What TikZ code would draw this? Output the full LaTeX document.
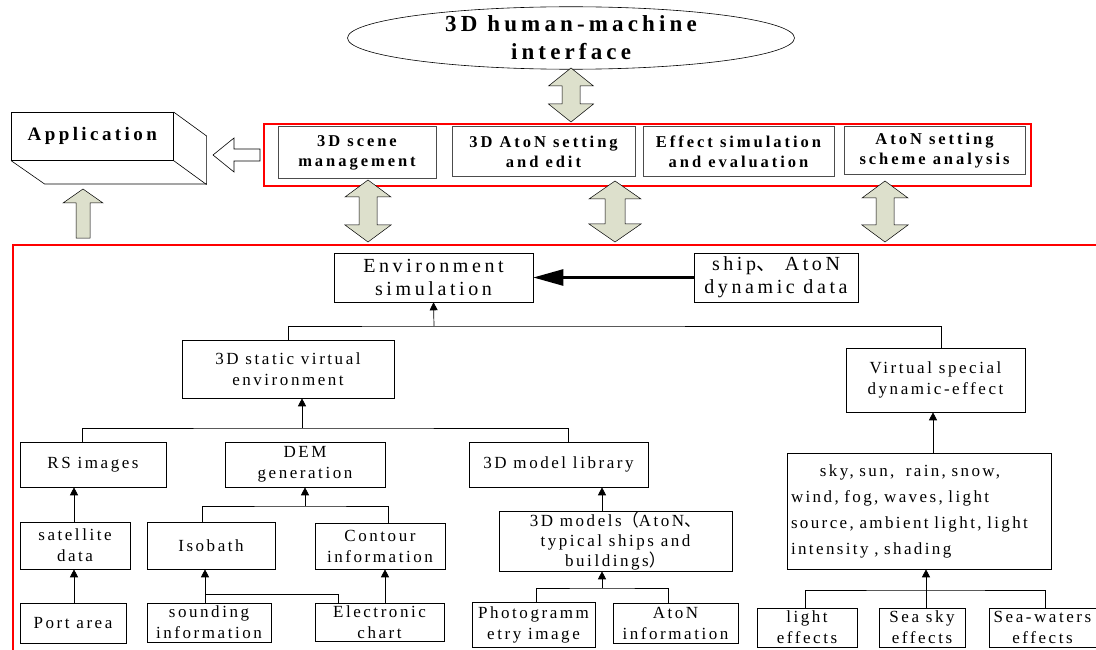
\documentclass[tikz,border=0pt]{standalone}
\usepackage{fontspec}
\setmainfont{Liberation Serif}
\newfontfamily\spfont[LetterSpace=15]{Liberation Serif}
\newfontfamily\spfontc[LetterSpace=18]{Liberation Serif}
\newfontfamily\spfontb[LetterSpace=14]{Liberation Serif}
\newfontfamily\cjk{Noto Sans CJK SC}
\usetikzlibrary{arrows.meta,shapes.geometric,calc}
\definecolor{arrowfill}{RGB}{221,224,204}
\newcommand\dbarr[6]{% x, ytop, ybot, head half width, shaft half width, head length
  \draw[fatarrow] (#1,#2) -- ({#1+#4},{#2+#6}) -- ({#1+#5},{#2+#6}) -- ({#1+#5},{#3-#6}) -- ({#1+#4},{#3-#6}) -- (#1,#3)
    -- ({#1-#4},{#3-#6}) -- ({#1-#5},{#3-#6}) -- ({#1-#5},{#2+#6}) -- ({#1-#4},{#2+#6}) -- cycle;}
\begin{document}
\begin{tikzpicture}[x=1pt,y=-1pt,
  box/.style={draw, line width=0.6pt, inner sep=0pt, align=center, font={\spfont\fontsize{17}{21}\selectfont}},
  bigtext/.style={font={\spfontc\fontsize{20}{23}\selectfont}},
  topbox/.style={draw=black!70, line width=1pt, inner sep=0pt, align=center, font={\spfontc\bfseries\fontsize{16.5}{20}\selectfont}},
  arr/.style={-{Triangle[length=8pt,width=8pt]}, line width=0.7pt},
  conn/.style={line width=0.7pt},
  fatarrow/.style={fill=arrowfill, draw=black, line width=0.5pt},
  redbox/.style={draw=red, line width=1.3pt, inner sep=0pt}
]
\useasboundingbox (0,0) rectangle (1096,650);

% top part
\node[ellipse, draw, line width=0.6pt, minimum width=447, minimum height=61, inner sep=0pt, align=center,
  font={\spfontc\bfseries\fontsize{23}{28}\selectfont}] (hmi) at (571,38) {3D human-machine\\interface};
\dbarr{571}{68}{122}{22.5}{9}{18}

\node[redbox, minimum width=767, minimum height=62] (topframe) at (647.5,155) {};
\node[topbox, minimum width=158, minimum height=52] (scene) at (357,153) {3D scene\\management};
\node[topbox, minimum width=183, minimum height=50] (atonedit) at (543.5,152) {3D AtoN setting\\and edit};
\node[topbox, minimum width=191, minimum height=50] (effect) at (738.5,152) {Effect simulation\\and evaluation};
\node[topbox, minimum width=181, minimum height=48] (scheme) at (934.5,151) {AtoN setting\\scheme analysis};

% application block
\node[draw, line width=0.6pt, minimum width=162, minimum height=48, inner sep=0pt, anchor=north west,
  font={\spfontc\bfseries\fontsize{19}{20}\selectfont}] (app) at (11,112) {Application};
\draw[line width=0.6pt] (app.north east) -- ++(33,24) -- ++(0,48) -- ++(-162,0) -- (app.south west);
\draw[line width=0.6pt] (app.south east) -- ++(33,24);
\draw[line width=0.6pt, fill=white] (213,155) -- (234,138) -- (234,149) -- (260,149) -- (260,161) -- (234,161) -- (234,172) -- cycle;
\draw[fatarrow] (83,189) -- (103,203) -- (90,203) -- (90,238) -- (76,238) -- (76,203) -- (63,203) -- cycle;

\dbarr{368}{180}{242}{23}{9}{17}
\dbarr{615}{181}{242}{26}{10}{18}
\dbarr{885}{181}{242}{23}{9}{17}

% big red frame
\draw[red, line width=1.5pt] (1100,245) -- (13,245) -- (13,655);

% lower part
\node[box, bigtext, minimum width=199, minimum height=49] (env) at (433.5,277.5) {Environment\\simulation};
\node[box, bigtext, minimum width=164, minimum height=49] (ship) at (776,277.5) {ship{\cjk 、} AtoN\\dynamic data};
\draw[line width=2.6pt, -{Triangle[length=30pt,width=16pt]}] (ship.west) -- (env.east);

\node[box, minimum width=212, minimum height=58] (static) at (288,369) {3D static virtual\\environment};
\node[box, minimum width=179, minimum height=64] (virtual) at (935.5,380) {Virtual special\\dynamic-effect};
\coordinate (j1) at (434,326);
\draw[conn] (static.north) |- (j1) -| ([xshift=6pt]virtual.north);
\draw[arr] (j1) -- (env.south);

\node[box, minimum width=146, minimum height=45] (rs) at (93,464.5) {RS images};
\node[box, minimum width=160, minimum height=45] (dem) at (305,464.5) {DEM\\generation};
\node[box, minimum width=179, minimum height=45] (lib) at (558.5,464.5) {3D model library};
\coordinate (j2) at (302,428);
\draw[conn] ([xshift=-11pt]rs.north) |- (j2) -| ([xshift=10pt]lib.north);
\draw[arr] (j2) -- (j2 |- static.south);

\node[box, minimum width=110, minimum height=47] (sat) at (75,545.5) {satellite\\data};
\node[box, minimum width=106, minimum height=40] (port) at (73,623) {Port area};
\draw[arr] ([xshift=1pt]port.north) -- ([xshift=1pt]port.north |- sat.south);
\draw[arr] ([xshift=-1pt]sat.north) -- ([xshift=-1pt]sat.north |- rs.south);

\node[box, minimum width=128, minimum height=47] (isobath) at (211,545.5) {Isobath};
\node[box, minimum width=130, minimum height=46] (contour) at (380,546) {Contour\\information};
\coordinate (j3) at (305,506);
\draw[conn] ([xshift=-9pt]isobath.north) |- (j3) -| ([xshift=8pt]contour.north);
\draw[arr] (j3) -- (dem.south);

\node[box, minimum width=124, minimum height=39] (sounding) at (209,622.5) {sounding\\information};
\node[box, minimum width=129, minimum height=38] (echart) at (379.5,622) {Electronic\\chart};
\coordinate (j4) at (205,594);
\draw[arr] (j4 |- sounding.north) -- (j4 |- isobath.south);
\draw[conn] (j4) -| ([xshift=-41.5pt]echart.north);
\draw[arr] ([xshift=5.5pt]echart.north) -- ([xshift=5.5pt]echart.north |- contour.south);

\node[box, minimum width=233, minimum height=60, font={\spfont\fontsize{17}{20}\selectfont}] (models) at (615.5,541) {3D models{\cjk （}AtoN{\cjk 、}\\typical ships and\\buildings{\cjk ）}};
\draw[arr] ([xshift=-13.5pt]models.north) -- ([xshift=-13.5pt]models.north |- lib.south);
\node[box, minimum width=123, minimum height=45] (photo) at (533.5,624.5) {Photogramm\\etry image};
\node[box, minimum width=125, minimum height=40] (atoninfo) at (675.5,623) {AtoN\\information};
\coordinate (j5) at (602,588);
\draw[conn] ([xshift=2.5pt]photo.north) |- (j5) -| ([xshift=-7.5pt]atoninfo.north);
\draw[arr] (j5) -- (j5 |- models.south);

\node[box, minimum width=264, minimum height=116, text width=256, align=left, inner xsep=4pt,
  font={\spfontb\fontsize{17}{26}\selectfont}] (sky) at (919,511)
  {\hspace*{1.7em}sky, sun,\ \ rain, snow,\\wind, fog, waves, light\\source, ambient light, light\\intensity , shading};
\draw[arr] ([xshift=14pt]sky.north) -- ([xshift=14pt]sky.north |- virtual.south);

\node[box, minimum width=100, minimum height=39] (light) at (807,627.5) {light\\effects};
\node[box, minimum width=86, minimum height=39] (seasky) at (922,627.5) {Sea sky\\effects};
\node[box, minimum width=107, minimum height=39] (seawater) at (1042.5,627.5) {Sea-waters\\effects};
\coordinate (j6) at (926,590);
\draw[conn] ([xshift=-2pt]light.north) |- (j6) -| ([xshift=2.5pt]seawater.north);
\draw[arr] ([xshift=4pt]seasky.north) -- ([xshift=4pt]seasky.north |- sky.south);
\end{tikzpicture}
\end{document}
